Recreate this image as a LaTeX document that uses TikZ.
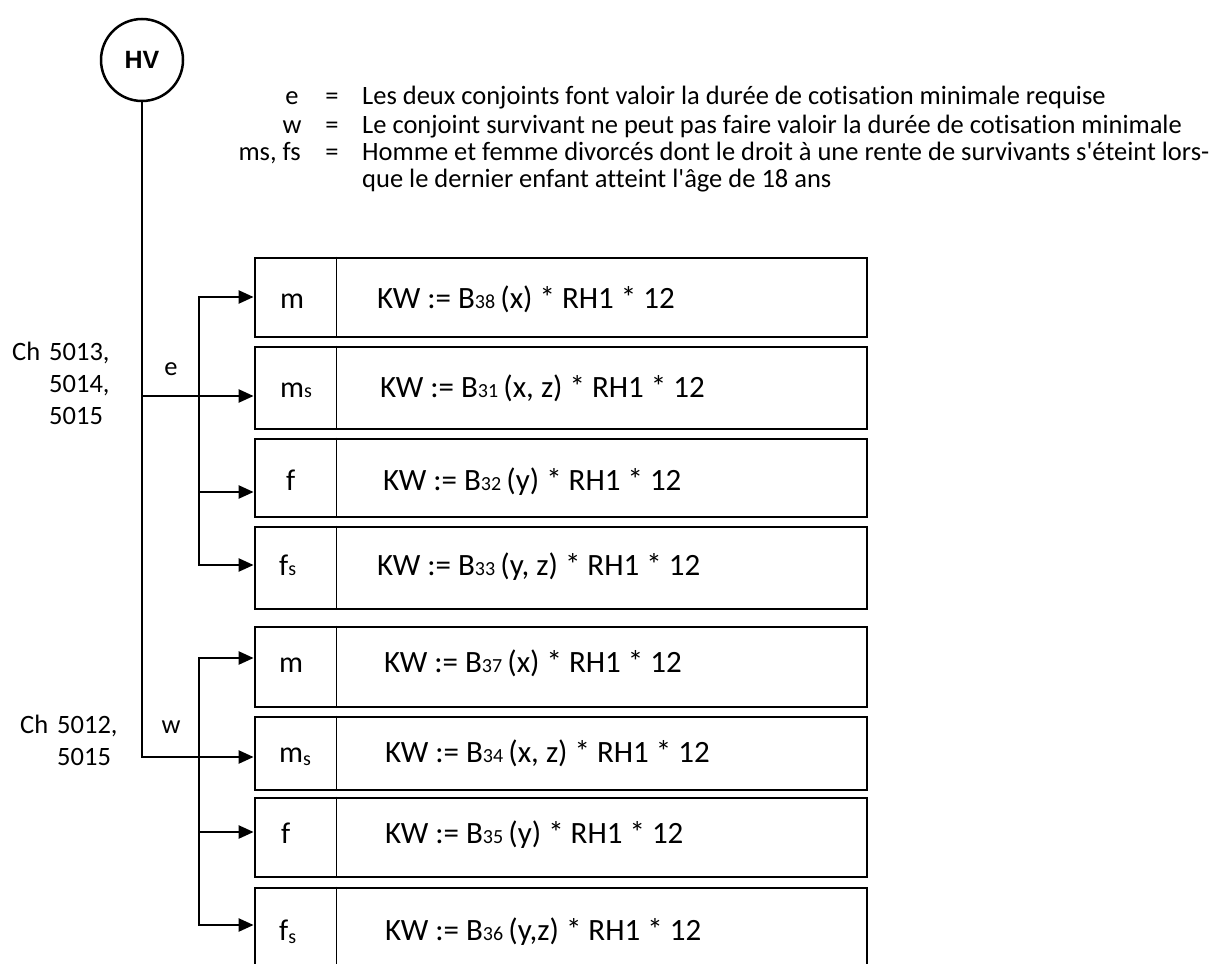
\documentclass[tikz,border=0pt]{standalone}
\usepackage{fontspec}
\setmainfont{Carlito}[Ligatures=NoCommon]
\newfontfamily\hvfont{Liberation Sans}
\usetikzlibrary{arrows.meta}
\newcommand{\sm}[1]{{\fontsize{20}{22}\selectfont #1}}
\begin{document}
\begin{tikzpicture}[x=1pt,y=-1pt,
  conn/.style={line width=2.4pt},
  arr/.style={conn,-{Triangle[length=15pt,width=13pt]}},
  rbox/.style={draw,line width=2.8pt,rectangle,inner sep=0pt,minimum width=612pt},
  divline/.style={line width=1.1pt},
  lgd/.style={font=\fontsize{26.5}{28}\selectfont,inner sep=0pt,anchor=base},
  side/.style={font=\fontsize{26.5}{32}\selectfont,inner sep=0pt,anchor=base west},
  cell/.style={font=\fontsize{30}{34}\selectfont,inner sep=0pt,anchor=base west},
  frm/.style={font=\fontsize{31}{36}\selectfont,inner sep=0pt,anchor=base west}
]
\useasboundingbox (0,0) rectangle (1222,963);
\clip (0,0) rectangle (1222,963);

% start node
\node[circle,draw,line width=2.5pt,minimum size=82pt,inner sep=0pt,
      font=\hvfont\bfseries\fontsize{25}{28}\selectfont] (hv) at (142,60) {HV};

% legend
\node[lgd] (le) at (292,105) {e};
\node[lgd] (lw) at (292,133) {w};
\node[lgd,anchor=base east] (lms) at (301,160) {ms, fs};
\node[lgd] (q1) at (332,105) {=};
\node[lgd] (q2) at (332,133) {=};
\node[lgd] (q3) at (332,160) {=};
\node[lgd,anchor=base west] (t1) at (362,105) {Les deux conjoints font valoir la durée de cotisation minimale requise};
\node[lgd,anchor=base west] (t2) at (362,133) {Le conjoint survivant ne peut pas faire valoir la durée de cotisation minimale};
\node[lgd,anchor=base west] (t3) at (362,160) {Homme et femme divorcés dont le droit à une rente de survivants s\textquotesingle éteint lors-};
\node[lgd,anchor=base west] (t4) at (362,187) {que le dernier enfant atteint l\textquotesingle âge de 18 ans};

% side labels
\node[side] (ch1a) at (12,360) {Ch};
\node[side] (ch1b) at (49,360) {5013,};
\node[side] (ch1c) at (49,392) {5014,};
\node[side] (ch1d) at (49,424) {5015};
\node[side,anchor=base] (le2) at (171,375) {e};
\node[side] (ch2a) at (20,733) {Ch};
\node[side] (ch2b) at (57,733) {5012,};
\node[side] (ch2c) at (57,765) {5015};
\node[side,anchor=base] (lw2) at (171,733) {w};

% boxes
\node[rbox,minimum height=79pt] (b1) at (561,297.5) {};
\node[rbox,minimum height=82pt] (b2) at (561,388) {};
\node[rbox,minimum height=78pt] (b3) at (561,478) {};
\node[rbox,minimum height=82pt] (b4) at (561,568) {};
\node[rbox,minimum height=80pt] (b5) at (561,667) {};
\node[rbox,minimum height=73pt] (b6) at (561,753.5) {};
\node[rbox,minimum height=79pt] (b7) at (561,837.5) {};
\node[rbox,minimum height=90pt] (b8) at (561,933) {};
\foreach \b in {b1,b2,b3,b4,b5,b6,b7,b8}{
  \draw[divline] ([xshift=83pt]\b.north west) -- ([xshift=83pt]\b.south west);
}

% cell texts
\node[cell] (c1) at (280,308) {m};
\node[frm] (f1) at (377,308) {KW := B\sm{38}\,(x) * RH1 * 12};
\node[cell] (c2) at (280,397) {m\sm{s}};
\node[frm] (f2) at (380,397) {KW := B\sm{31}\,(x, z) * RH1 * 12};
\node[cell] (c3) at (286,490) {f};
\node[frm] (f3) at (383,490) {KW := B\sm{32}\,(y) * RH1 * 12};
\node[cell] (c4) at (279,575) {f\sm{s}};
\node[frm] (f4) at (377,575) {KW := B\sm{33}\,(y, z) * RH1 * 12};
\node[cell] (c5) at (279,672) {m};
\node[frm] (f5) at (384,672) {KW := B\sm{37}\,(x) * RH1 * 12};
\node[cell] (c6) at (279,762) {m\raisebox{-3pt}{\sm{s}}};
\node[frm] (f6) at (385,762) {KW := B\sm{34}\,(x, z) * RH1 * 12};
\node[cell] (c7) at (281,843) {f};
\node[frm] (f7) at (385,843) {KW := B\sm{35}\,(y) * RH1 * 12};
\node[cell] (c8) at (279,940) {f\raisebox{-3pt}{\sm{s}}};
\node[frm] (f8) at (385,940) {KW := B\sm{36}\,(y,z) * RH1 * 12};

% connector coordinates
\coordinate (ej) at (142,396);
\coordinate (wj) at (142,757);
\coordinate (eT) at (199,297);
\coordinate (eM) at (199,396);
\coordinate (eF) at (199,492);
\coordinate (eB) at (199,565);
\coordinate (wT) at (199,658);
\coordinate (wM) at (199,757);
\coordinate (wF) at (199,832);
\coordinate (wB) at (199,925);

% main trunk
\draw[arr] (hv.south) -- (wj) -- (wj -| b6.west);
\draw[arr] (ej) -- (ej -| b2.west);

% e branch
\draw[arr] (eM) -- (eT) -- (eT -| b1.west);
\draw[arr] (eM) -- (eB) -- (eB -| b4.west);
\draw[arr] (eF) -- (eF -| b3.west);

% w branch
\draw[arr] (wM) -- (wT) -- (wT -| b5.west);
\draw[arr] (wM) -- (wB) -- (wB -| b8.west);
\draw[arr] (wF) -- (wF -| b7.west);
\end{tikzpicture}
\end{document}
